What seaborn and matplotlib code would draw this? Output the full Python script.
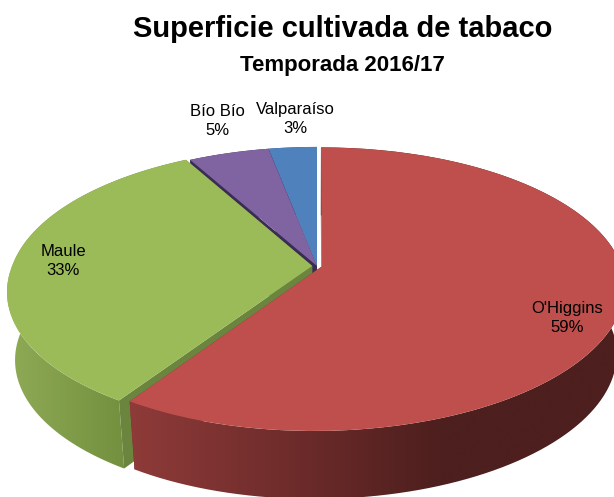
import numpy as np
import matplotlib
matplotlib.use("Agg")
import matplotlib.pyplot as plt
import matplotlib.transforms as mtransforms
from matplotlib.colors import LinearSegmentedColormap
from matplotlib.patches import Polygon
import seaborn as sns

# datos del grafico
regiones = ["O'Higgins", "Maule", "Bío Bío", "Valparaíso"]
porcentajes = [59, 33, 5, 3]
titulo = "Superficie cultivada de tabaco"
subtitulo = "Temporada 2016/17"

# estilo
colores = ["#BE4F4C", "#9BBB59", "#8064A2", "#4F81BD"]
colores_corte = ["#7A3433", "#6B853F", "#3A2C55", "#2F4F78"]
separacion = [0.016, 0.016, 0.0, 0.0]
pos_etiquetas = [(567, 318), (63, 261), (217, 121), (295, 119)]
degradados = [
    [(130, "#8E3B39"), (300, "#6C2B2A"), (440, "#4D1F1E"), (614, "#4D1F1E")],
    [(10, "#8FAA55"), (125, "#72903F")],
    [(10, "#3A2C55"), (614, "#3A2C55")],
    [(10, "#2F4F78"), (614, "#2F4F78")],
]

sns.set_theme(style="white")
plt.rcParams["font.family"] = ["Liberation Sans", "DejaVu Sans"]

CX, AY, A, B, K, S = 317.0, 266.0, 300.0, 138.0, 0.159, 7.0
PROF, ESC = 68.0, 0.974


def proyectar(x, y):
    # perspectiva: circulo unitario a pixeles de la imagen
    w = 1 + K * y
    return CX + (A * x + S * np.minimum(y, 0)) / w, AY - B * y / w


class Perspectiva(mtransforms.Transform):
    input_dims = 2
    output_dims = 2

    def transform_non_affine(self, values):
        values = np.asarray(values)
        sx, sy = proyectar(values[:, 0], values[:, 1])
        return np.column_stack([sx, sy])


def abajo(sx, sy):
    # misma posicion en la cara inferior de la torta
    return CX + (sx - CX) * ESC, sy + PROF


fig = plt.figure(figsize=(6.14, 4.97), dpi=100)
ax = fig.add_axes([0, 0, 1, 1])

wedges, _ = ax.pie(porcentajes, colors=colores, explode=separacion, startangle=90,
                   counterclock=False, wedgeprops={"linewidth": 0})
ax.axis("off")

persp = Perspectiva()
for i, w in enumerate(wedges):
    z = (len(wedges) - i) * 2
    w.set_transform(persp + ax.transData)
    w.set_zorder(z + 1)

    ox, oy = w.center
    angulos = np.radians(np.linspace(w.theta1, w.theta2, 120))
    px, py = proyectar(ox + np.cos(angulos), oy + np.sin(angulos))
    ax0, ay0 = proyectar(ox, oy)

    # caras de corte
    for j in [0, -1]:
        bx, by = abajo(px[j], py[j])
        cx, cy = abajo(ax0, ay0)
        ax.fill([ax0, px[j], bx, cx], [ay0, py[j], by, cy], color=colores_corte[i], lw=0, zorder=z)

    # pared exterior con degradado horizontal
    bx, by = abajo(px, py)
    contorno = np.column_stack([np.r_[px, bx[::-1]], np.r_[py, by[::-1]]])
    poly = Polygon(contorno, closed=True, fc="none", ec="none", transform=ax.transData)
    ax.add_patch(poly)
    tramos = degradados[i]
    x0, x1 = tramos[0][0], tramos[-1][0]
    cmap = LinearSegmentedColormap.from_list(
        f"pared{i}", [((x - x0) / (x1 - x0), c) for x, c in tramos])
    img = ax.imshow(np.linspace(0, 1, 256)[None, :], cmap=cmap, aspect="auto",
                    extent=[x0, x1, 497, 0], zorder=z, interpolation="bilinear")
    img.set_clip_path(poly)
    # lo que queda fuera del degradado lleva el color del extremo
    ax.fill_between([-20, x0], 0, 497, color=tramos[0][1], lw=0, zorder=z, clip_path=poly)
    ax.fill_between([x1, 640], 0, 497, color=tramos[-1][1], lw=0, zorder=z, clip_path=poly)

ax.set_aspect("auto")
ax.set_xlim(0, 614)
ax.set_ylim(497, 0)

for nombre, valor, (x, y) in zip(regiones, porcentajes, pos_etiquetas):
    ax.text(x, y, f"{nombre}\n{valor}%", ha="center", va="center", fontsize=12,
            color="black", linespacing=1.4, zorder=20)

ax.text(343, 29, titulo, ha="center", va="center", fontsize=21, fontweight="bold", color="black")
ax.text(342, 65, subtitulo, ha="center", va="center", fontsize=16, fontweight="bold", color="black")

fig.savefig("out.png", dpi=100)
